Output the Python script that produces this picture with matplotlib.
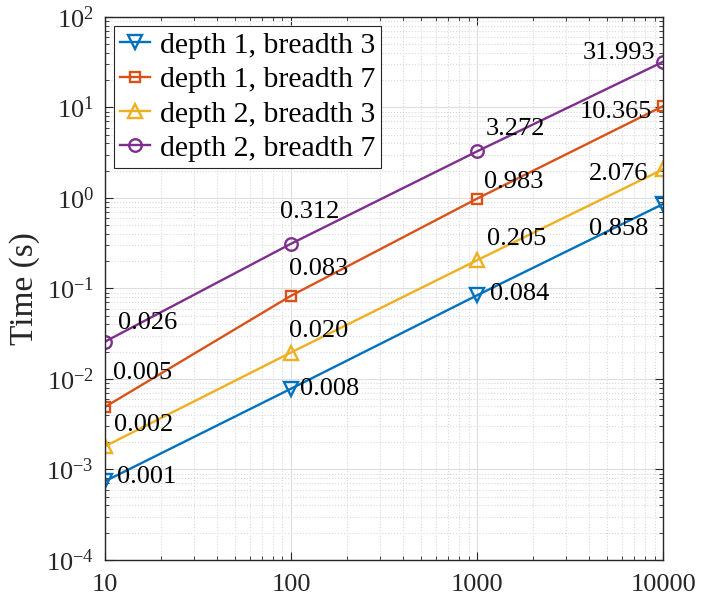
import matplotlib
matplotlib.use("Agg")
from matplotlib import pyplot as plt
from matplotlib.ticker import FuncFormatter, LogLocator, NullFormatter
import numpy as np

plt.rcParams['font.family'] = ['Liberation Serif', 'DejaVu Serif']
plt.rcParams['mathtext.fontset'] = 'custom'
plt.rcParams['mathtext.rm'] = 'Liberation Serif'
plt.rcParams['mathtext.it'] = 'Liberation Serif:italic'

# data
n_samples = [10, 100, 1000, 10000]
d1_b3 = [0.00074, 0.0078, 0.084, 0.858]
d1_b7 = [0.0049, 0.083, 0.983, 10.365]
d2_b3 = [0.0018, 0.0196, 0.205, 2.076]
d2_b7 = [0.0258, 0.312, 3.272, 31.993]
names = ["depth 1, breadth 3", "depth 1, breadth 7",
         "depth 2, breadth 3", "depth 2, breadth 7"]

series = [d1_b3, d1_b7, d2_b3, d2_b7]
colors = [(0, 0.447, 0.741), (0.85, 0.325, 0.098),
          (0.929, 0.694, 0.125), (0.494, 0.184, 0.556)]
markers = ['v', 's', '^', 'o']
msizes = [9.5, 6.5, 9.5, 9]

# label offsets in pixels (dx, dy, ha) per series per point
offsets = [
    [(12, 4, 'left'), (9, 0, 'left'), (13, 1, 'left'), (-15, -25, 'right')],
    [(8, 34, 'left'), (-2, 27, 'left'), (7, 17, 'left'), (-11, -6, 'right')],
    [(9, 21, 'left'), (-2, 22, 'left'), (10, 21, 'left'), (-15, -5, 'right')],
    [(13, 19, 'left'), (-11, 32, 'left'), (9, 22, 'left'), (-8, 9, 'right')],
]

fig = plt.figure(figsize=(7.04, 6.06), dpi=100)
ax = fig.add_axes([0.149, 0.076, 0.793, 0.896])

for ys, c, m, ms, name, offs in zip(series, colors, markers, msizes, names, offsets):
    ax.plot(n_samples, ys, color=c, marker=m, markersize=ms, markerfacecolor='none',
            markeredgewidth=1.7, linewidth=1.7, label=name)
    for x, y, (dx, dy, ha) in zip(n_samples, ys, offs):
        ax.annotate("%.3f" % y, (x, y), xytext=(dx, dy), textcoords='offset pixels',
                    ha=ha, va='center', fontsize=19, color='black')

ax.set_xscale('log')
ax.set_yscale('log')
ax.set_xlim(10, 10000)
ax.set_ylim(1e-4, 1e2)
ax.set_xticks(n_samples)
ax.xaxis.set_major_formatter(FuncFormatter(lambda v, p: "%d" % v))
ax.xaxis.set_minor_locator(LogLocator(base=10, subs=np.arange(2, 10), numticks=10))
ax.xaxis.set_minor_formatter(NullFormatter())
ax.yaxis.set_major_locator(LogLocator(base=10, numticks=10))
ax.yaxis.set_minor_locator(LogLocator(base=10, subs=np.arange(2, 10), numticks=10))
ax.yaxis.set_major_formatter(FuncFormatter(
    lambda v, p: r"$\mathregular{10^{%d}}$" % int(round(np.log10(v)))))
ax.yaxis.set_minor_formatter(NullFormatter())

ax.tick_params(which='both', direction='in', top=True, right=True,
               colors=(0.15, 0.15, 0.15), labelsize=19)
ax.tick_params(which='major', length=6, width=0.8)
ax.tick_params(axis='x', which='major', pad=10)
ax.tick_params(axis='y', which='major', pad=8)
ax.tick_params(which='minor', length=3, width=0.6, labelbottom=False, labelleft=False)
for sp in ax.spines.values():
    sp.set_color((0.15, 0.15, 0.15))
    sp.set_linewidth(1.0)

ax.grid(True, which='major', color=(0.87, 0.87, 0.87), linestyle='-', linewidth=0.8)
ax.grid(True, which='minor', color=(0.85, 0.85, 0.85), linestyle=':', linewidth=0.8)
ax.set_axisbelow(True)

ax.set_ylabel("Time (s)", fontsize=24, color=(0.15, 0.15, 0.15), labelpad=4)
ax.xaxis.label.set_visible(False)

leg = ax.legend(loc='upper left', fontsize=21.5, fancybox=False, framealpha=1,
                edgecolor=(0.15, 0.15, 0.15), borderpad=0.2, labelspacing=0.25,
                handlelength=1.0, handletextpad=0.35, borderaxespad=0.3)
leg.get_frame().set_linewidth(0.8)

fig.savefig("out.png", dpi=100)
